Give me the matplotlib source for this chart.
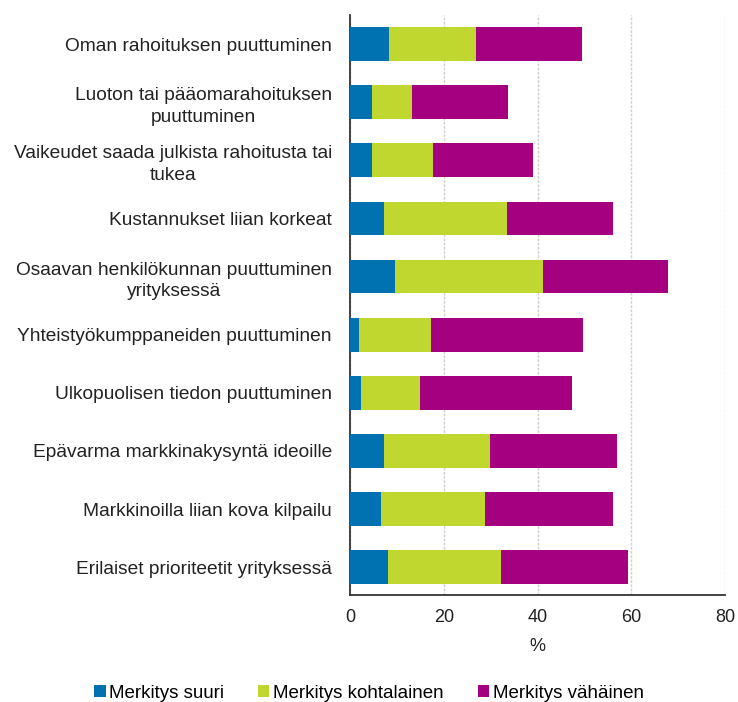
import numpy as np
import matplotlib.pyplot as plt

plt.rcParams['font.family'] = ['Liberation Sans', 'DejaVu Sans']

categories = ['Oman rahoituksen puuttuminen',
              'Luoton tai pääomarahoituksen\npuuttuminen',
              'Vaikeudet saada julkista rahoitusta tai\ntukea',
              'Kustannukset liian korkeat',
              'Osaavan henkilökunnan puuttuminen\nyrityksessä',
              'Yhteistyökumppaneiden puuttuminen',
              'Ulkopuolisen tiedon puuttuminen',
              'Epävarma markkinakysyntä ideoille',
              'Markkinoilla liian kova kilpailu',
              'Erilaiset prioriteetit yrityksessä']
suuri = [8.4, 4.6, 4.6, 7.3, 9.5, 1.9, 2.3, 7.3, 6.7, 8.0]
kohtalainen = [18.4, 8.6, 13.0, 26.1, 31.7, 15.4, 12.6, 22.6, 22.2, 24.3]
vahainen = [22.6, 20.4, 21.5, 22.6, 26.7, 32.5, 32.5, 27.0, 27.3, 27.0]
series_names = ['Merkitys suuri', 'Merkitys kohtalainen', 'Merkitys vähäinen']
colors = ['#0072B1', '#C0D72F', '#A50080']

fig = plt.figure(figsize=(7.38, 7.02), dpi=100)
ax = fig.add_axes([0.4743, 0.1524, 0.5081, 0.8262])

y = np.arange(len(categories))
left = np.zeros(len(categories))
for vals, name, c in zip([suuri, kohtalainen, vahainen], series_names, colors):
    ax.barh(y, vals, left=left, height=0.58, color=c, label=name, zorder=3)
    left += np.array(vals)

ax.set_ylim(len(categories) - 0.52, -0.5)
ax.set_xlim(0, 80)
ax.set_xticks([0, 20, 40, 60, 80])
ax.set_yticks(y)
ax.set_yticklabels(categories, multialignment='center', fontsize=13.8, linespacing=1.38)
ax.tick_params(axis='both', length=0, colors='#222222')
ax.tick_params(axis='x', pad=10, labelsize=13)
ax.tick_params(axis='y', pad=13)
ax.grid(axis='x', color='#cfcfcf', linestyle=(0, (2, 1)), linewidth=1, zorder=0)
for s in ['top', 'right']:
    ax.spines[s].set_visible(False)
ax.spines['left'].set_color('#333333')
ax.spines['bottom'].set_color('#333333')
ax.spines['left'].set_linewidth(1.3)
ax.spines['bottom'].set_linewidth(1.3)
ax.set_xlabel('%', fontsize=13, color='#222222', labelpad=9)

fig.legend(loc='lower center', bbox_to_anchor=(0.5, -0.024), ncol=3, frameon=False,
           fontsize=13.5, handlelength=0.6, handleheight=0.6, handletextpad=0.2,
           columnspacing=1.8)

fig.savefig('out.png', dpi=100)
